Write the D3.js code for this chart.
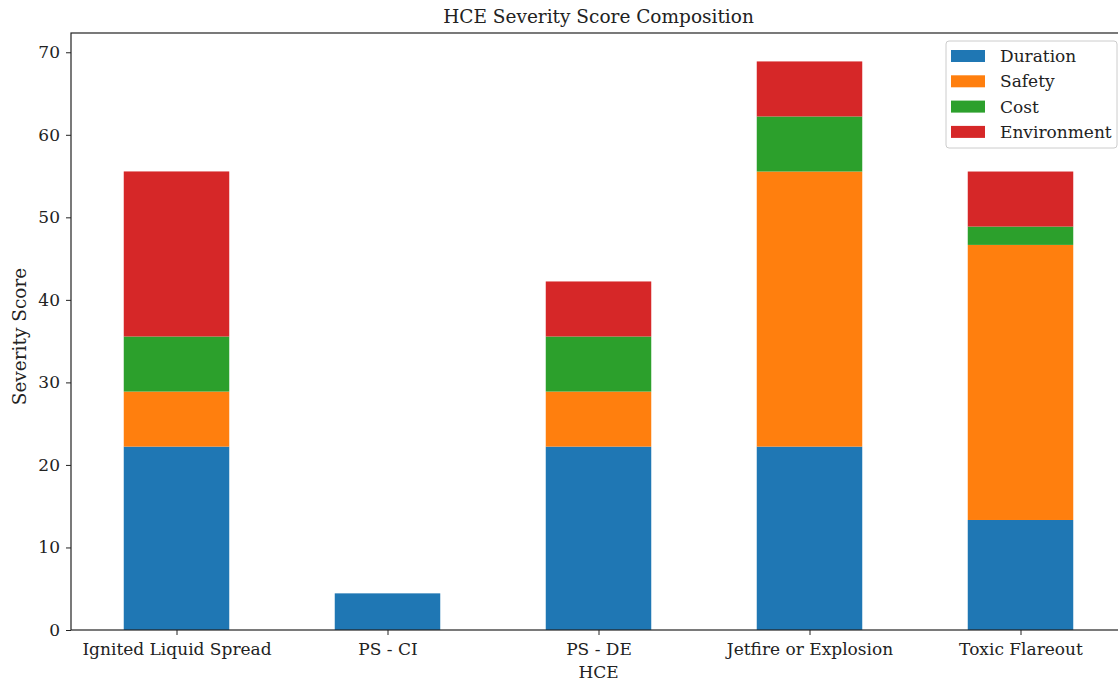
<!DOCTYPE html>
<html>
<head>
<meta charset="utf-8">
<script src="https://cdn.jsdelivr.net/npm/d3@7"></script>
<style>
  html, body { margin: 0; padding: 0; background: #fff; }
  svg { display: block; font-family: "DejaVu Serif", serif; }
</style>
</head>
<body>
<svg id="chart" width="1118" height="682"></svg>
<script>
// HCE categories and the four stacked score components
const categories = ["Ignited Liquid Spread", "PS - CI", "PS - DE", "Jetfire or Explosion", "Toxic Flareout"];
const duration    = [22.22, 4.44, 22.22, 22.22, 13.33];
const safety      = [6.67, 0, 6.67, 33.33, 33.33];
const cost        = [6.67, 0, 6.67, 6.67, 2.22];
const environment = [20.0, 0, 6.67, 6.67, 6.67];
const seriesNames = ["Duration", "Safety", "Cost", "Environment"];
const seriesColors = ["#1f77b4", "#ff7f0e", "#2ca02c", "#d62728"];
const yTicks = [0, 10, 20, 30, 40, 50, 60, 70];

const rows = categories.map((c, i) => ({
  hce: c,
  Duration: duration[i],
  Safety: safety[i],
  Cost: cost[i],
  Environment: environment[i]
}));

const svg = d3.select("#chart");
const margin = { left: 71, top: 33, right: 1126, bottom: 630 };
const tickFont = 17, labelFont = 18.5;

const x = d3.scaleLinear().domain([-0.5, categories.length - 0.5]).range([margin.left, margin.right]);
const totals = rows.map(r => seriesNames.reduce((s, k) => s + r[k], 0));
const yMax = d3.max(totals) * 1.05;
const y = d3.scaleLinear().domain([0, yMax]).range([margin.bottom, margin.top]);

const stack = d3.stack().keys(seriesNames)(rows);
const barW = x(0.25) - x(-0.25);

svg.append("g").selectAll("g")
  .data(stack)
  .join("g")
  .attr("fill", (d, i) => seriesColors[i])
  .selectAll("rect")
  .data(d => d)
  .join("rect")
  .attr("x", (d, i) => x(i) - barW / 2)
  .attr("width", barW)
  .attr("y", d => y(d[1]))
  .attr("height", d => Math.max(0, y(d[0]) - y(d[1])));

// Axes frame
svg.append("rect")
  .attr("x", margin.left).attr("y", margin.top)
  .attr("width", margin.right - margin.left).attr("height", margin.bottom - margin.top)
  .attr("fill", "none").attr("stroke", "#222").attr("stroke-width", 1.2);

// Y axis
const yAxis = svg.append("g")
  .attr("transform", `translate(${margin.left},0)`)
  .call(d3.axisLeft(y).tickValues(yTicks).tickSize(5).tickPadding(6).tickFormat(d3.format("d")));
yAxis.select(".domain").remove();
yAxis.selectAll("line").attr("stroke", "#222");
yAxis.selectAll("text").attr("font-size", tickFont).attr("fill", "#222").attr("font-family", "DejaVu Serif");

// X axis
const xAxis = svg.append("g")
  .attr("transform", `translate(0,${margin.bottom})`)
  .call(d3.axisBottom(x).tickValues(d3.range(categories.length)).tickSize(5).tickPadding(8)
    .tickFormat(i => categories[i]));
xAxis.select(".domain").remove();
xAxis.selectAll("line").attr("stroke", "#222");
xAxis.selectAll("text").attr("font-size", tickFont).attr("fill", "#222").attr("font-family", "DejaVu Serif");

// Titles
svg.append("text")
  .attr("x", (margin.left + margin.right) / 2).attr("y", 23)
  .attr("text-anchor", "middle").attr("font-size", labelFont).attr("fill", "#222")
  .text("HCE Severity Score Composition");

svg.append("text")
  .attr("x", (margin.left + margin.right) / 2).attr("y", 678)
  .attr("text-anchor", "middle").attr("font-size", tickFont).attr("fill", "#222")
  .text("HCE");

svg.append("text")
  .attr("transform", `translate(26,${(margin.top + margin.bottom) / 2 + 5}) rotate(-90)`)
  .attr("text-anchor", "middle").attr("font-size", labelFont).attr("fill", "#222")
  .text("Severity Score");

// Legend
const legend = svg.append("g").attr("transform", "translate(946,41)");
legend.append("rect")
  .attr("width", 171).attr("height", 107).attr("rx", 3)
  .attr("fill", "#fff").attr("fill-opacity", 0.8)
  .attr("stroke", "#ccc").attr("stroke-width", 1);
seriesNames.forEach((name, i) => {
  const g = legend.append("g").attr("transform", `translate(0,${15 + i * 25.3})`);
  g.append("rect").attr("x", 5).attr("y", -6).attr("width", 34).attr("height", 12)
    .attr("fill", seriesColors[i]);
  g.append("text").attr("x", 54).attr("y", 6)
    .attr("font-size", tickFont).attr("fill", "#222").text(name);
});
</script>
</body>
</html>
